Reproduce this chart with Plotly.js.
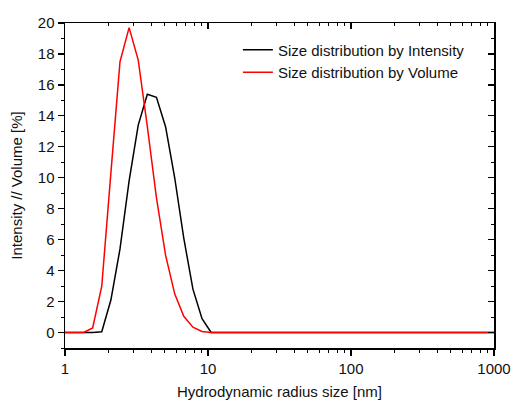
<!DOCTYPE html>
<html>
<head>
<meta charset="utf-8">
<script src="https://cdn.plot.ly/plotly-3.0.1.min.js"></script>
<style>html,body{margin:0;padding:0;background:#fff;}#chart{width:515px;height:404px;}</style>
</head>
<body>
<div id="chart"></div>
<script>
// Hydrodynamic radius bins (nm)
const radius = [0.868, 1.005, 1.164, 1.348, 1.561, 1.8075, 2.0935, 2.4245, 2.8075, 3.2515,
  3.7655, 4.3605, 5.05, 5.85, 6.77, 7.845, 9.085, 10.52, 12.18, 14.105, 16.335, 18.92,
  21.91, 25.375, 29.385, 34.03, 39.41, 45.64, 52.85, 61.2, 70.9, 82.1, 95.05, 110.1,
  127.5, 147.65, 171, 198.05, 229.35, 265.6, 307.55, 356.2, 412.5, 477.7, 553, 640.5,
  742, 859, 995, 1152.5];
// Size distribution by Intensity (%)
const intensity = [0, 0, 0, 0, 0, 0.05, 2.1, 5.4, 9.8, 13.4,
  15.4, 15.2, 13.3, 10.0, 6.1, 2.8, 0.9, 0, 0, 0, 0, 0,
  0, 0, 0, 0, 0, 0, 0, 0, 0, 0, 0, 0,
  0, 0, 0, 0, 0, 0, 0, 0, 0, 0, 0, 0,
  0, 0, 0, 0];
// Size distribution by Volume (%)
const volume = [0, 0, 0, 0, 0.3, 3.0, 10.3, 17.5, 19.7, 17.6,
  13.3, 8.7, 5.0, 2.5, 1.05, 0.35, 0.07, 0, 0, 0, 0, 0,
  0, 0, 0, 0, 0, 0, 0, 0, 0, 0, 0, 0,
  0, 0, 0, 0, 0, 0, 0, 0, 0, 0, 0, 0,
  0, 0, 0, 0];
const seriesNames = ['Size distribution by Intensity', 'Size distribution by Volume'];
const xTicks = [1, 10, 100, 1000];
const xTickText = ['1', '10', '100', '1000'];

const FONT = 'Liberation Sans, Arial, sans-serif';
const minorX = [2,3,4,5,6,7,8,9,20,30,40,50,60,70,80,90,200,300,400,500,600,700,800,900];

const traces = [
  {x: radius, y: intensity, name: seriesNames[0], type: 'scatter', mode: 'lines',
   line: {color: '#000000', width: 1.5}},
  {x: radius, y: volume, name: seriesNames[1], type: 'scatter', mode: 'lines',
   line: {color: '#ff0000', width: 1.5}},
  {x: [null], y: [null], xaxis: 'x2', yaxis: 'y2', showlegend: false, hoverinfo: 'skip',
   type: 'scatter', mode: 'lines'}
];

const axisCommon = {
  showgrid: false, zeroline: false, showline: true, linecolor: '#000', linewidth: 1.5,
  tickcolor: '#000', tickwidth: 1.2, tickfont: {family: FONT, size: 15, color: '#111'}
};

const layout = {
  width: 515, height: 404,
  margin: {l: 65, r: 21, t: 23, b: 56},
  paper_bgcolor: '#fff', plot_bgcolor: '#fff',
  font: {family: FONT, size: 15, color: '#000'},
  showlegend: true,
  legend: {x: 0.403, y: 0.968, xanchor: 'left', yanchor: 'top', bgcolor: 'rgba(0,0,0,0)',
    borderwidth: 0, font: {family: FONT, size: 15, color: '#111'}, tracegroupgap: 0},
  xaxis: Object.assign({}, axisCommon, {
    type: 'log', range: [0, 3], tickmode: 'array', tickvals: xTicks, ticktext: xTickText,
    ticks: 'outside', ticklen: 6, mirror: true,
    minor: {tickmode: 'array', tickvals: minorX, ticks: 'outside', ticklen: 3, tickcolor: '#000', tickwidth: 1, showgrid: false},
    title: {text: 'Hydrodynamic radius size [nm]', font: {family: FONT, size: 15, color: '#111'}, standoff: 11}
  }),
  yaxis: Object.assign({}, axisCommon, {
    range: [-1, 20], tickmode: 'linear', tick0: 0, dtick: 2,
    ticks: 'outside', ticklen: 6, mirror: true,
    minor: {dtick: 1, tick0: 0, ticks: 'outside', ticklen: 3, tickcolor: '#000', tickwidth: 1, showgrid: false},
    title: {text: 'Intensity // Volume [%]', font: {family: FONT, size: 15, color: '#111'}, standoff: 11}
  }),
  xaxis2: Object.assign({}, axisCommon, {
    type: 'log', range: [0, 3], overlaying: 'x', side: 'top', anchor: 'y2',
    tickmode: 'array', tickvals: xTicks, showticklabels: false,
    ticks: 'inside', ticklen: 6,
    minor: {tickmode: 'array', tickvals: minorX, ticks: 'inside', ticklen: 3, tickcolor: '#000', tickwidth: 1, showgrid: false}
  }),
  yaxis2: Object.assign({}, axisCommon, {
    range: [-1, 20], overlaying: 'y', side: 'right', anchor: 'x2',
    tickmode: 'linear', tick0: 0, dtick: 2, showticklabels: false,
    ticks: 'inside', ticklen: 6,
    minor: {dtick: 1, tick0: 0, ticks: 'inside', ticklen: 3, tickcolor: '#000', tickwidth: 1, showgrid: false}
  })
};

Plotly.newPlot('chart', traces, layout, {displayModeBar: false, staticPlot: true});
</script>
</body>
</html>
